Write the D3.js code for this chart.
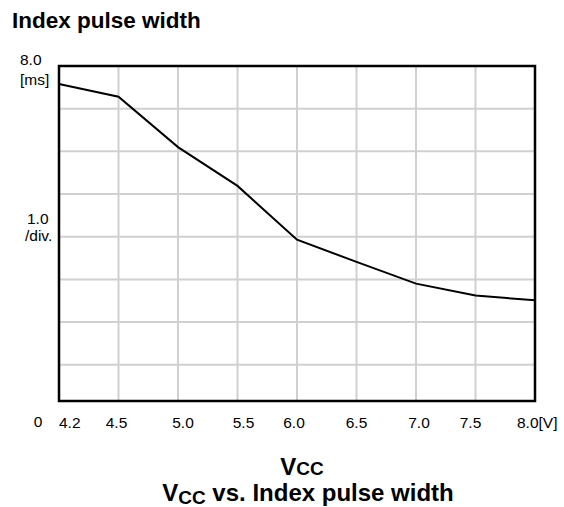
<!DOCTYPE html>
<html>
<head>
<meta charset="utf-8">
<script src="https://cdn.jsdelivr.net/npm/d3@7"></script>
<style>
  html, body { margin: 0; padding: 0; background: #fff; }
  svg { display: block; font-family: "Liberation Sans", Arial, sans-serif; }
</style>
</head>
<body>
<div id="chart"></div>
<script>
// supply voltage categories (equally spaced on the chart)
const vccLabels = ["4.2", "4.5", "5.0", "5.5", "6.0", "6.5", "7.0", "7.5", "8.0"];
// index pulse width in ms
const pulseWidth = [7.58, 7.28, 6.1, 5.19, 3.93, 3.41, 2.9, 2.62, 2.51];
const yGridValues = [1, 2, 3, 4, 5, 6, 7];

const width = 564, height = 507;
const plotLeft = 59, plotRight = 535, plotTop = 66, plotBottom = 401;
// hand placed tick label offsets as in the original sheet
const labelNudge = [0, -2, 5, 6, -3, 0, 3, -5, 0];

const svg = d3.select("#chart").append("svg")
  .attr("width", width)
  .attr("height", height);

const x = d3.scalePoint().domain(vccLabels).range([plotLeft, plotRight]);
const y = d3.scaleLinear().domain([0.15, 8]).range([plotBottom, plotTop]);

// grid
svg.append("g")
  .selectAll("line")
  .data(vccLabels.slice(1, -1))
  .enter()
  .append("line")
  .attr("x1", d => x(d))
  .attr("x2", d => x(d))
  .attr("y1", plotTop)
  .attr("y2", plotBottom + 1)
  .attr("stroke", "#d0d0d0")
  .attr("stroke-width", 2);

svg.append("g")
  .selectAll("line")
  .data(yGridValues)
  .enter()
  .append("line")
  .attr("x1", plotLeft)
  .attr("x2", plotRight)
  .attr("y1", d => y(d))
  .attr("y2", d => y(d))
  .attr("stroke", "#d0d0d0")
  .attr("stroke-width", 2);

// curve
const line = d3.line()
  .x((d, i) => x(vccLabels[i]))
  .y(d => y(d));

svg.append("path")
  .datum(pulseWidth)
  .attr("d", line)
  .attr("fill", "none")
  .attr("stroke", "#000")
  .attr("stroke-width", 2);

// frame
svg.append("rect")
  .attr("x", plotLeft)
  .attr("y", plotTop)
  .attr("width", plotRight - plotLeft)
  .attr("height", plotBottom - plotTop)
  .attr("fill", "none")
  .attr("stroke", "#000")
  .attr("stroke-width", 2.5);

// x tick labels
const lastIdx = vccLabels.length - 1;
svg.append("g")
  .selectAll("text")
  .data(vccLabels)
  .enter()
  .append("text")
  .attr("x", (d, i) => x(d) + labelNudge[i])
  .attr("y", 428)
  .attr("text-anchor", (d, i) => (i === 0 || i === lastIdx) ? "start" : "middle")
  .attr("dx", (d, i) => i === lastIdx ? -18 : 0)
  .style("font-size", "15.5px")
  .text((d, i) => i === lastIdx ? d + "[V]" : d);

svg.append("text")
  .attr("x", 38)
  .attr("y", 427)
  .attr("text-anchor", "middle")
  .style("font-size", "15.5px")
  .text("0");

// y labels
const yLab = svg.append("g").style("font-size", "15.5px");
yLab.append("text").attr("x", 20).attr("y", y(8) - 1).text("8.0");
yLab.append("text").attr("x", 20).attr("y", y(8) + 19).text("[ms]");
yLab.append("text").attr("x", 27).attr("y", y(4) - 13).text("1.0");
yLab.append("text").attr("x", 25).attr("y", y(4) + 4).text("/div.");

// titles
svg.append("text")
  .attr("x", 12)
  .attr("y", 28)
  .style("font-size", "22.5px")
  .style("font-weight", "bold")
  .text("Index pulse width");

const axisTitle = svg.append("text")
  .attr("x", 302)
  .attr("y", 475)
  .attr("text-anchor", "middle")
  .style("font-size", "24px")
  .style("font-weight", "bold");
axisTitle.append("tspan").text("V");
axisTitle.append("tspan").style("font-size", "19px").text("CC");

const chartTitle = svg.append("text")
  .attr("x", 308)
  .attr("y", 501)
  .attr("text-anchor", "middle")
  .style("font-size", "24px")
  .style("font-weight", "bold");
chartTitle.append("tspan").text("V");
chartTitle.append("tspan").attr("dy", 3).style("font-size", "19px").text("CC");
chartTitle.append("tspan").attr("dy", -3).text(" vs. Index pulse width");
</script>
</body>
</html>
